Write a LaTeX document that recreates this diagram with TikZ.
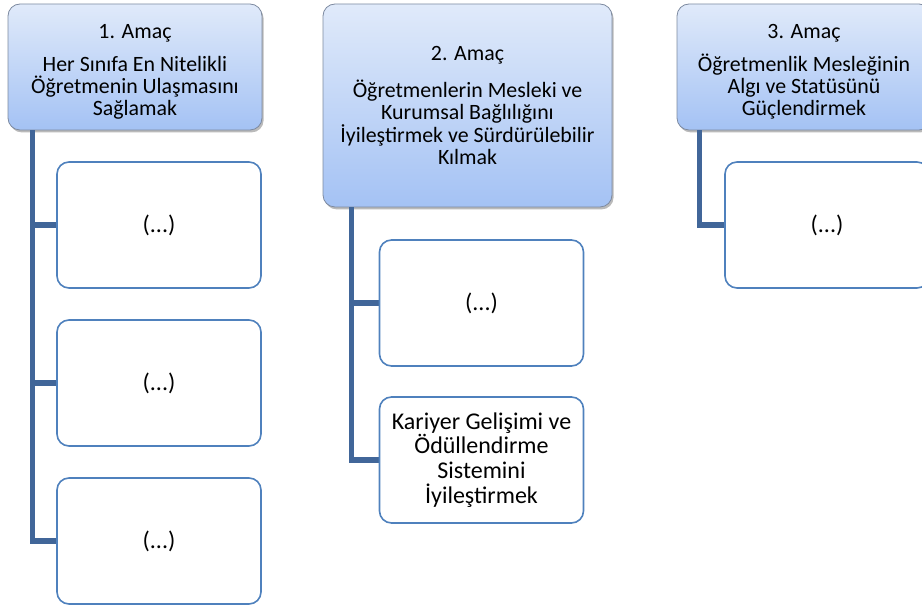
\documentclass[tikz,border=0pt]{standalone}
\usepackage{fontspec}
\setmainfont{Carlito}
\usepackage{tikz}
\usetikzlibrary{shadows}

\definecolor{bagmavi}{RGB}{65,102,153}
\definecolor{kutumavi}{RGB}{79,129,189}
\definecolor{ustrenk}{RGB}{224,234,250}
\definecolor{altrenk}{RGB}{164,194,244}
\definecolor{cerceve}{RGB}{125,138,160}

\begin{document}
\begin{tikzpicture}[x=0.75pt, y=-0.75pt, font=\fontsize{16.4}{16.7}\selectfont,
    amac/.style={draw=cerceve, line width=0.6pt, rounded corners=9pt, align=center,
        top color=ustrenk, bottom color=altrenk,
        drop shadow={shadow xshift=1.2pt, shadow yshift=-1.8pt, fill=black!60, opacity=0.45}},
    kutu/.style={draw=kutumavi, line width=1.2pt, rounded corners=9pt, fill=white, align=center,
        minimum width=153pt, minimum height=94.5pt, font=\fontsize{18}{18.5}\selectfont},
    bag/.style={draw=bagmavi, line width=3.8pt}]
    \clip (0,0) rectangle (922,605);
    % amaç kutuları
    \node[amac, minimum width=190.5pt, minimum height=94.5pt] (A1) at (135,67)
        {\rule{0pt}{18pt}1. Amaç\\[8pt]Her Sınıfa En Nitelikli\\Öğretmenin Ulaşmasını\\Sağlamak};
    \node[amac, minimum width=216.75pt, minimum height=152.25pt] (A2) at (467.5,105.5)
        {2. Amaç\\[11pt]Öğretmenlerin Mesleki ve\\Kurumsal Bağlılığını\\İyileştirmek ve Sürdürülebilir\\Kılmak};
    \node[amac, minimum width=190.5pt, minimum height=94.5pt] (A3) at (804,67)
        {\rule{0pt}{18pt}3. Amaç\\[8pt]Öğretmenlik Mesleğinin\\Algı ve Statüsünü\\Güçlendirmek};
    % 1. amacın alt kutuları
    \foreach \y [count=\i] in {225,383,541} {
        \draw[bag] ([xshift=18.75pt]A1.south west) |- (159,\y);
        \node[kutu] (B\i) at (159,\y) {(...)};
    }
    % 2. amacın alt kutuları
    \draw[bag] ([xshift=21.75pt]A2.south west) |- (481.5,460);
    \draw[bag] ([xshift=21.75pt]A2.south west) |- (481.5,303);
    \node[kutu] (C1) at (481.5,303) {(...)};
    \node[kutu] (C2) at (481.5,460) {Kariyer Gelişimi ve\\Ödüllendirme\\Sistemini\\İyileştirmek};
    % 3. amacın alt kutusu
    \draw[bag] ([xshift=17.25pt]A3.south west) |- (827,225);
    \node[kutu] (D1) at (827,225) {(...)};
\end{tikzpicture}
\end{document}
